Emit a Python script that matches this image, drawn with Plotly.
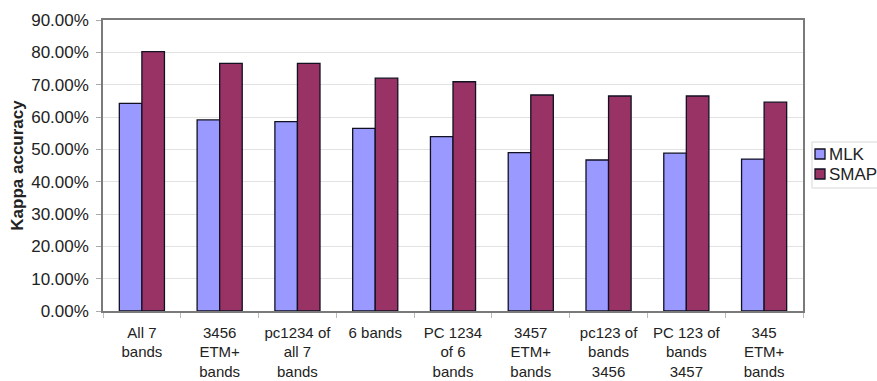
import plotly.graph_objects as go

categories = [
    "All 7<br>bands",
    "3456<br>ETM+<br>bands",
    "pc1234 of<br>all 7<br>bands",
    "6 bands",
    "PC 1234<br>of 6<br>bands",
    "3457<br>ETM+<br>bands",
    "pc123 of<br>bands<br>3456",
    "PC 123 of<br>bands<br>3457",
    "345<br>ETM+<br>bands",
]
mlk = [64.2, 59.1, 58.6, 56.5, 53.9, 49.0, 46.7, 48.8, 47.0]
smap = [80.2, 76.6, 76.6, 72.0, 70.9, 66.8, 66.5, 66.5, 64.6]
series_names = ["MLK", "SMAP"]
colors = ["#9999FF", "#993366"]

FONT = "Liberation Sans, Arial, sans-serif"
TXT = "#222222"

fig = go.Figure()
for name, vals, col in zip(series_names, [mlk, smap], colors):
    fig.add_trace(go.Bar(
        x=categories, y=vals, name=name,
        marker=dict(color=col, line=dict(color="#111122", width=1.3)),
        showlegend=False,
    ))

# manual legend (box + swatches + labels) in paper coordinates
L, R, T, B = 103, 803, 20, 311
W, H = R - L, B - T
def px(x):
    return (x - L) / W
def py(y):
    return (B - y) / H

shapes = [dict(type="rect", xref="paper", yref="paper",
               x0=px(812), x1=px(890), y0=py(188), y1=py(142),
               line=dict(color="#d8d8d8", width=1), fillcolor="white", layer="below")]
annotations = []
for i, (name, col) in enumerate(zip(series_names, colors)):
    cy = 154 + i * 20
    shapes.append(dict(type="rect", xref="paper", yref="paper",
                       x0=px(815), x1=px(825), y0=py(cy + 5), y1=py(cy - 5),
                       line=dict(color="#111122", width=1.3), fillcolor=col))
    annotations.append(dict(text=name, xref="paper", yref="paper",
                            x=px(827), y=py(cy), xanchor="left", yanchor="middle",
                            showarrow=False, font=dict(family=FONT, size=17, color=TXT)))

fig.update_layout(
    width=877, height=381,
    margin=dict(l=L, r=877 - R, t=T, b=381 - B, autoexpand=False),
    paper_bgcolor="white", plot_bgcolor="white",
    barmode="group", bargap=0.42, bargroupgap=0,
    font=dict(family=FONT, size=16, color=TXT),
    shapes=shapes, annotations=annotations,
    showlegend=False,
)
fig.update_yaxes(
    range=[0, 90], dtick=10, tickformat=".2f", ticksuffix="%",
    showgrid=True, gridcolor="#e2e2e2", gridwidth=1,
    showline=True, linecolor="#7a7a7a", linewidth=1.5, mirror=True,
    ticks="outside", ticklen=5, tickcolor="#aaaaaa",
    ticklabelstandoff=4,
    tickfont=dict(family=FONT, size=17, color=TXT),
    title=dict(text="<b>Kappa accuracy</b>", standoff=3,
               font=dict(family=FONT, size=17, color=TXT)),
    zeroline=False, automargin=False,
)
fig.update_xaxes(
    showline=True, linecolor="#7a7a7a", linewidth=1.5, mirror=True,
    ticks="outside", tickson="boundaries", ticklen=5, tickcolor="#bbbbbb",
    ticklabelstandoff=7,
    tickfont=dict(family=FONT, size=15, color=TXT),
    tickangle=0, automargin=False,
)

fig.write_html("out.html")
